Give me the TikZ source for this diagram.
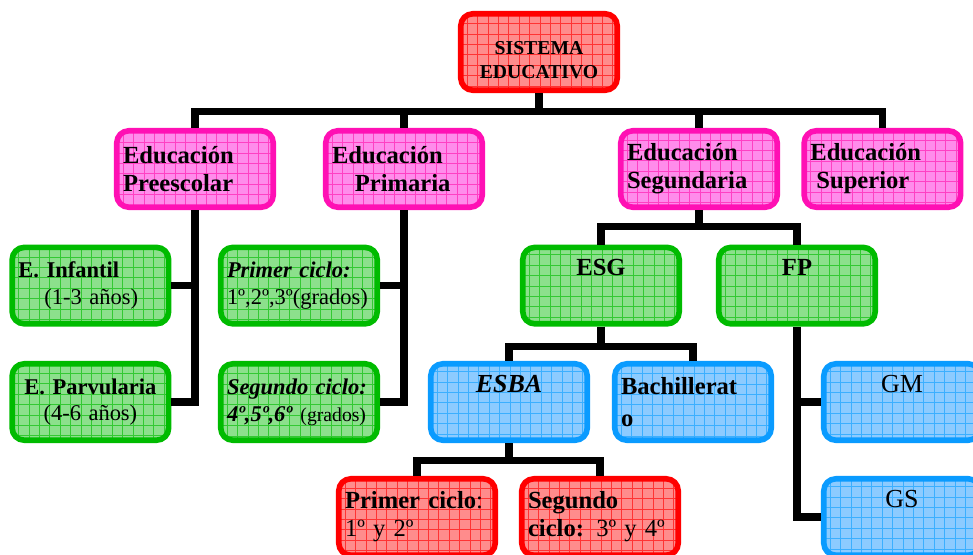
\documentclass[tikz,border=0pt]{standalone}
\usepackage{fontspec}
\setmainfont{Liberation Serif}
\usepackage{xcolor}

\definecolor{rojoB}{HTML}{FF0000}
\definecolor{rojoF}{HTML}{FF8C8C}
\definecolor{rosaB}{HTML}{FF10B4}
\definecolor{rosaF}{HTML}{FF8CEB}
\definecolor{verdeB}{HTML}{00BB00}
\definecolor{verdeF}{HTML}{8CE08C}
\definecolor{azulB}{HTML}{0A9BFF}
\definecolor{azulF}{HTML}{8CCBFF}

\begin{document}
\begin{tikzpicture}[
        caja/.style={draw=#1B, fill=#1F, line width=4pt, rounded corners=0.3cm,
          minimum width=3.91cm, minimum height=1.91cm, text width=3.6cm,
          inner xsep=0.15cm, inner ysep=0pt, align=left,
          font=\fontsize{17.5}{20}\selectfont,
          path picture={\draw[#1B!80, line width=0.4pt] (path picture bounding box.south west)
            grid[step=0.26cm] (path picture bounding box.north east);}},
        linea/.style={line width=5pt}
      ]
        \useasboundingbox (0, 0) rectangle (24.325, -13.85);
        \node[caja=rojo, align=center, font=\fontsize{14}{17}\selectfont] (sis) at (13.475, -1.3) {\rule{0pt}{21pt}\textbf{SISTEMA}\\\textbf{EDUCATIVO}};
        \node[caja=rosa] (pre) at (4.875, -4.225) {\textbf{Educación}\\\textbf{Preescolar}};
        \node[caja=rosa] (pri) at (10.1, -4.225) {\textbf{Educación}\\\hspace*{0.57cm}\textbf{Primaria}};
        \node[caja=rosa] (seg) at (17.475, -4.225) {\textbf{Educación}\\\textbf{Segundaria}};
        \node[caja=rosa] (sup) at (22.06, -4.225) {\textbf{Educación}\\\hspace*{0.15cm}\textbf{Superior}};
        \node[caja=verde, font=\fontsize{16}{19}\selectfont] (inf) at (2.26, -7.14) {\textbf{E. Infantil}\\\hspace*{0.65cm}(1-3 años)};
        \node[caja=verde, align=center, font=\fontsize{16}{19}\selectfont] (par) at (2.26, -10.05) {\textbf{E. Parvularia}\\(4-6 años)};
        \node[caja=verde, font=\fontsize{16}{19}\selectfont] (cicA) at (7.475, -7.14) {\textbf{\textit{Primer ciclo:}}\\1º,2º,3º(grados)};
        \node[caja=verde, font=\fontsize{16}{19}\selectfont] (cicB) at (7.475, -10.05) {\textbf{\textit{Segundo ciclo:}}\\\textbf{\textit{4º,5º,6º}} {\fontsize{14}{16}\selectfont(grados)}};
        \node[caja=verde, align=center] (esg) at (15.025, -7.14) {\textbf{ESG}\\\strut};
        \node[caja=verde, align=center] (fp) at (19.925, -7.14) {\textbf{FP}\\\strut};
        \node[caja=azul, align=center, font=\fontsize{18.5}{20}\selectfont] (esba) at (12.725, -10.05) {\textbf{\textit{ESBA}}\\\strut};
        \node[caja=azul] (bach) at (17.325, -10.05) {\textbf{Bachillerat}\\[3pt]\textbf{o}};
        \node[caja=azul, align=center, font=\fontsize{18.5}{20}\selectfont] (gm) at (22.55, -10.05) {GM\\\strut};
        \node[caja=azul, align=center, font=\fontsize{18.5}{20}\selectfont] (gs) at (22.55, -12.925) {GS\\\strut};
        \node[caja=rojo] (cueA) at (10.425, -12.925) {\textbf{Primer ciclo}:\\1º y 2º};
        \node[caja=rojo] (cueB) at (15.0, -12.925) {\textbf{Segundo}\\\textbf{ciclo:} 3º y 4º};
        % top level
        \draw[linea] (sis.south) -- ++(0, -0.45) -| (pre.north);
        \draw[linea] (sis.south) -- ++(0, -0.45) -| (pri.north);
        \draw[linea] (sis.south) -- ++(0, -0.45) -| (seg.north);
        \draw[linea] (sis.south) -- ++(0, -0.45) -| (sup.north);
        % preescolar and primaria
        \draw[linea] (pre.south) |- (par.east);
        \draw[linea] (inf.east) -- (inf.east -| pre.south);
        \draw[linea] (pri.south) |- (cicB.east);
        \draw[linea] (cicA.east) -- (cicA.east -| pri.south);
        % segundaria
        \draw[linea] (seg.south) -- ++(0, -0.4) -| (esg.north);
        \draw[linea] (seg.south) -- ++(0, -0.4) -| (fp.north);
        \draw[linea] (esg.south) -- ++(0, -0.5) -| (esba.north);
        \draw[linea] (esg.south) -- ++(0, -0.5) -| (bach.north);
        \draw[linea] (esba.south) -- ++(0, -0.43) -| (cueA.north);
        \draw[linea] (esba.south) -- ++(0, -0.43) -| (cueB.north);
        \draw[linea] (fp.south) |- (gs.west);
        \draw[linea] (gm.west) -- (gm.west -| fp.south);
      \end{tikzpicture}
\end{document}
